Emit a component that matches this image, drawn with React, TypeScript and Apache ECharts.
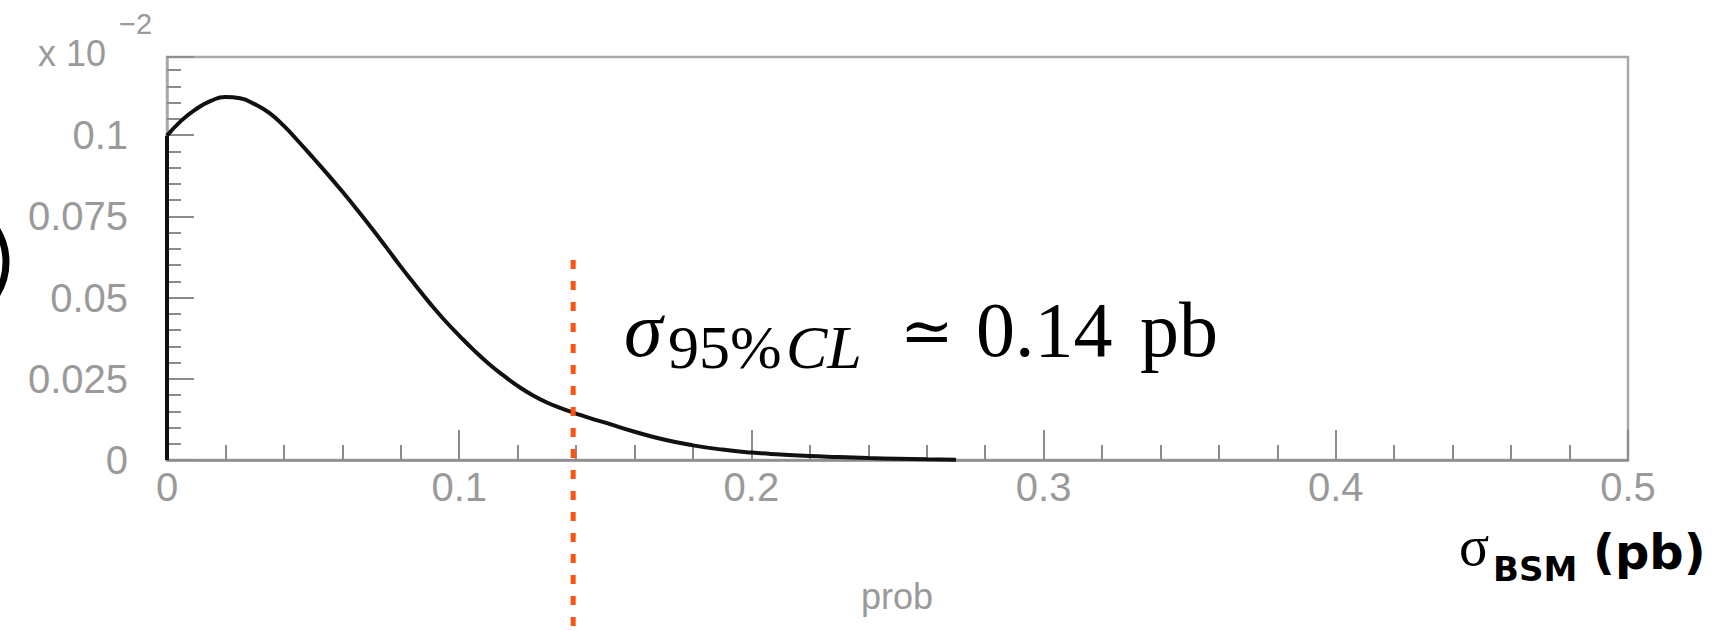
import React, { useEffect, useRef } from "react";
import * as echarts from "echarts";

// Probability density (in units of 10^-2) vs sigma_BSM (pb)
const sigmaValues = [
  0, 0.005, 0.01, 0.015, 0.02, 0.025, 0.03, 0.035, 0.04, 0.045, 0.05, 0.055, 0.06,
  0.065, 0.07, 0.075, 0.08, 0.085, 0.09, 0.095, 0.1, 0.105, 0.11, 0.115, 0.12, 0.125,
  0.13, 0.135, 0.14, 0.145, 0.15, 0.16, 0.17, 0.18, 0.19, 0.2, 0.21, 0.22, 0.23, 0.24,
  0.25, 0.26, 0.27,
];
const probValues = [
  0.0998, 0.1045, 0.108, 0.1105, 0.1117, 0.1113, 0.1095, 0.1068, 0.1028, 0.098, 0.093,
  0.0879, 0.0826, 0.0771, 0.0714, 0.0655, 0.0595, 0.0538, 0.0482, 0.043, 0.0383, 0.0338,
  0.0297, 0.0261, 0.0228, 0.02, 0.0177, 0.0159, 0.0143, 0.0128, 0.0115, 0.0087, 0.0063,
  0.0045, 0.0032, 0.0023, 0.0017, 0.0012, 0.0009, 0.0006, 0.0004, 0.0002, 0.0001,
];
// vertical edge of the curve at sigma = 0
const edgeSigma = [0, 0];
const edgeProb = [0, 0.0998];
// 95% CL limit marker
const limitSigma = 0.139;

const xTicks = { min: 0, max: 0.5, interval: 0.1 };
const yTicks = { min: 0, max: 0.124, interval: 0.025 };

const GRAY = "#8c8c8c";
const LABEL_GRAY = "#9a9a9a";

export default function App() {
  const ref = useRef<HTMLDivElement>(null);

  useEffect(() => {
    if (!ref.current) return;
    const chart = echarts.init(ref.current, null, { renderer: "svg" });

    const curve = sigmaValues.map((x, i) => [x, probValues[i]]);
    const edge = edgeSigma.map((x, i) => [x, edgeProb[i]]);

    const serifMain = "78px 'Liberation Serif', 'DejaVu Serif', serif";
    const serifItalic = "italic 78px 'Liberation Serif', 'DejaVu Serif', serif";

    chart.setOption({
      animation: false,
      backgroundColor: "#ffffff",
      grid: [
        {
          left: 167,
          right: 95,
          top: 57,
          bottom: 171,
          show: true,
          borderColor: "#a8a8a8",
          borderWidth: 2.5,
          backgroundColor: "transparent",
        },
        { left: 167, right: 95, top: 260, bottom: 0, show: false },
      ],
      xAxis: [
        {
          type: "value",
          gridIndex: 0,
          min: xTicks.min,
          max: xTicks.max,
          interval: xTicks.interval,
          axisLine: { show: true, lineStyle: { color: GRAY, width: 2.5 } },
          axisTick: { show: true, inside: true, length: 30, lineStyle: { color: GRAY, width: 2 } },
          minorTick: { show: true, splitNumber: 5, length: 15, lineStyle: { color: GRAY, width: 2 } },
          axisLabel: {
            margin: 7,
            fontSize: 40,
            color: LABEL_GRAY,
            fontFamily: "'Liberation Sans', Arial, sans-serif",
          },
          splitLine: { show: false },
        },
        { type: "value", gridIndex: 1, min: 0, max: 0.5, show: false },
      ],
      yAxis: [
        {
          type: "value",
          gridIndex: 0,
          min: yTicks.min,
          max: yTicks.max,
          interval: yTicks.interval,
          axisLine: { show: true, lineStyle: { color: "#a8a8a8", width: 2.5 } },
          axisTick: { show: true, inside: true, length: 27, lineStyle: { color: GRAY, width: 2 } },
          minorTick: { show: true, splitNumber: 5, length: 14, lineStyle: { color: GRAY, width: 2 } },
          axisLabel: {
            margin: 39,
            fontSize: 40,
            color: LABEL_GRAY,
            showMaxLabel: false,
            fontFamily: "'Liberation Sans', Arial, sans-serif",
          },
          splitLine: { show: false },
        },
        { type: "value", gridIndex: 1, min: 0, max: 1, show: false },
      ],
      series: [
        {
          type: "line",
          xAxisIndex: 0,
          yAxisIndex: 0,
          data: curve,
          smooth: 0.5,
          symbol: "none",
          lineStyle: { color: "#111111", width: 4 },
          z: 3,
        },
        {
          type: "line",
          xAxisIndex: 0,
          yAxisIndex: 0,
          data: edge,
          symbol: "none",
          lineStyle: { color: "#111111", width: 4 },
          z: 3,
        },
        {
          type: "line",
          xAxisIndex: 1,
          yAxisIndex: 1,
          data: [
            [limitSigma, 1],
            [limitSigma, 0],
          ],
          symbol: "none",
          lineStyle: { color: "#fd5312", width: 5, type: [9, 12] },
          z: 6,
        },
      ],
      graphic: [
        // x 10^-2 multiplier
        {
          type: "text",
          x: 38,
          y: 53,
          style: {
            text: "x 10",
            font: "36px 'Liberation Sans', Arial, sans-serif",
            fill: LABEL_GRAY,
            align: "left",
            verticalAlign: "middle",
          },
        },
        {
          type: "text",
          x: 119,
          y: 24,
          style: {
            text: "\u22122",
            font: "29px 'Liberation Sans', Arial, sans-serif",
            fill: LABEL_GRAY,
            align: "left",
            verticalAlign: "middle",
          },
        },
        // axis title "prob"
        {
          type: "text",
          x: 897,
          y: 596,
          style: {
            text: "prob",
            font: "36px 'Liberation Sans', Arial, sans-serif",
            fill: LABEL_GRAY,
            align: "center",
            verticalAlign: "middle",
          },
        },
        // cut-off parenthesis stroke at the left edge
        {
          type: "arc",
          shape: { cx: -56, cy: 262, r: 62, startAngle: -0.6, endAngle: 0.6 },
          style: { stroke: "#000000", lineWidth: 7, fill: "none" },
        },
        // sigma_95%CL ≃ 0.14 pb
        {
          type: "text",
          x: 624,
          y: 329,
          style: { text: "σ", font: serifItalic, fill: "#000", align: "left", verticalAlign: "middle" },
        },
        {
          type: "text",
          x: 668,
          y: 347,
          style: {
            text: "95%",
            font: "62px 'Liberation Serif', 'DejaVu Serif', serif",
            fill: "#000",
            align: "left",
            verticalAlign: "middle",
          },
        },
        {
          type: "text",
          x: 786,
          y: 347,
          style: {
            text: "CL",
            font: "italic 62px 'Liberation Serif', 'DejaVu Serif', serif",
            fill: "#000",
            align: "left",
            verticalAlign: "middle",
          },
        },
        {
          type: "text",
          x: 900,
          y: 331,
          style: {
            text: "≃",
            font: "64px 'DejaVu Serif', serif",
            fill: "#000",
            align: "left",
            verticalAlign: "middle",
          },
        },
        {
          type: "text",
          x: 976,
          y: 329,
          style: { text: "0.14", font: serifMain, fill: "#000", align: "left", verticalAlign: "middle" },
        },
        {
          type: "text",
          x: 1140,
          y: 329,
          style: { text: "pb", font: serifMain, fill: "#000", align: "left", verticalAlign: "middle" },
        },
        // sigma_BSM (pb)
        {
          type: "text",
          x: 1459,
          y: 546,
          style: {
            text: "σ",
            font: "56px 'Liberation Serif', 'DejaVu Serif', serif",
            fill: "#000",
            align: "left",
            verticalAlign: "middle",
          },
        },
        {
          type: "text",
          x: 1493,
          y: 569,
          style: {
            text: "BSM",
            font: "bold 34px 'DejaVu Sans', sans-serif",
            fill: "#000",
            align: "left",
            verticalAlign: "middle",
          },
        },
        {
          type: "text",
          x: 1593,
          y: 552,
          style: {
            text: "(pb)",
            font: "bold 48px 'DejaVu Sans', sans-serif",
            fill: "#000",
            align: "left",
            verticalAlign: "middle",
          },
        },
      ],
    });

    return () => chart.dispose();
  }, []);

  return (
    <div
      ref={ref}
      style={{ position: "fixed", left: 0, top: 0, width: 1723, height: 631, background: "#fff" }}
    />
  );
}
